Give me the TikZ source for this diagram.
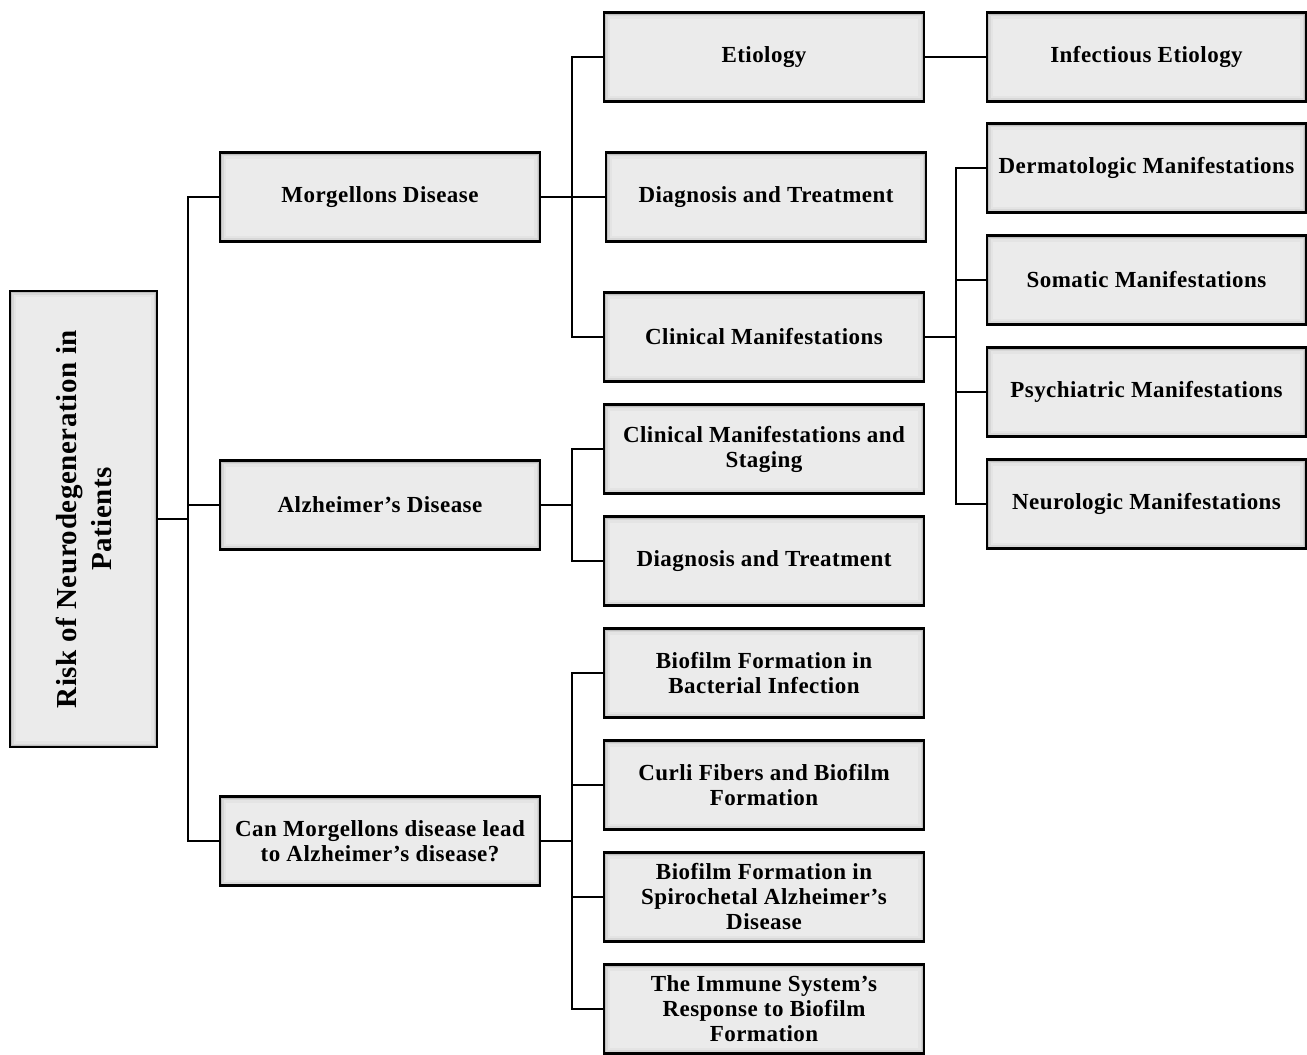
\documentclass[tikz,border=0pt]{standalone}
\usepackage{fontspec}
\setmainfont{Liberation Serif}
\newfontfamily\boxfont[LetterSpace=2]{Liberation Serif}
\definecolor{boxfill}{RGB}{235,235,235}
\definecolor{shA}{RGB}{228,228,228}
\definecolor{shB}{RGB}{215,215,215}
\definecolor{shC}{RGB}{190,190,190}
\begin{document}
\begin{tikzpicture}[x=1pt,y=-1pt,
  bx/.style={draw=black, line width=2.8pt, fill=boxfill,
    minimum width=320pt, minimum height=89pt, inner sep=2pt, align=center,
    font=\boxfont\bfseries\fontsize{23}{25}\selectfont,
    path picture={
      \draw[line width=12pt, shA] (path picture bounding box.south west) rectangle (path picture bounding box.north east);
      \draw[line width=7pt, shB] (path picture bounding box.south west) rectangle (path picture bounding box.north east);
      \draw[line width=4pt, shC] (path picture bounding box.south west) rectangle (path picture bounding box.north east);
    }},
  conn/.style={draw=black, line width=2.5pt}]
\useasboundingbox (0,0) rectangle (1307,1055);

% junctions
\coordinate (J1) at (188,519);
\coordinate (J2) at (572,197);
\coordinate (J3) at (572,505);
\coordinate (J4) at (572,841);
\coordinate (J5) at (956,337);

% root
\node[bx, minimum width=147pt, minimum height=456pt] (root) at (83.5,519) {};
\node[rotate=90, align=center, font=\boxfont\bfseries\fontsize{29}{35}\selectfont] (rootlbl) at (root.center) {Risk of Neurodegeneration in\\Patients};

% level 1
\node[bx] (m) at (380,197) {Morgellons Disease};
\node[bx] (a) at (380,505) {Alzheimer’s Disease};
\node[bx] (c) at (380,841) {Can Morgellons disease lead\\to Alzheimer’s disease?};

% level 2
\node[bx] (e) at (764,57) {Etiology};
\node[bx] (d1) at (766,197) {Diagnosis and Treatment};
\node[bx] (cm) at (764,337) {Clinical Manifestations};
\node[bx] (cms) at (764,449) {Clinical Manifestations and\\Staging};
\node[bx] (d2) at (764,561) {Diagnosis and Treatment};
\node[bx] (b1) at (764,673) {Biofilm Formation in\\Bacterial Infection};
\node[bx] (cf) at (764,785) {Curli Fibers and Biofilm\\Formation};
\node[bx] (b2) at (764,897) {Biofilm Formation in\\Spirochetal Alzheimer’s\\Disease};
\node[bx] (im) at (764,1009) {The Immune System’s\\Response to Biofilm\\Formation};

% level 3
\node[bx, minimum width=319pt] (inf) at (1146.5,57) {Infectious Etiology};
\node[bx, minimum width=319pt] (der) at (1146.5,168) {Dermatologic Manifestations};
\node[bx, minimum width=319pt] (som) at (1146.5,280) {Somatic Manifestations};
\node[bx, minimum width=319pt] (psy) at (1146.5,392) {Psychiatric Manifestations};
\node[bx, minimum width=319pt] (neu) at (1146.5,504) {Neurologic Manifestations};

\path[conn] (root.east) -- (J1);
\path[conn] (m.west) -| (J1);
\path[conn] (c.west) -| (J1);
\path[conn] (a.west) -- (a.west -| J1);

\path[conn] (m.east) -- (J2);
\path[conn] (e.west) -| (J2);
\path[conn] (d1.west) -- (J2);
\path[conn] (cm.west) -| (J2);

\path[conn] (a.east) -- (J3);
\path[conn] (cms.west) -| (J3);
\path[conn] (d2.west) -| (J3);

\path[conn] (c.east) -- (J4);
\path[conn] (b1.west) -| (J4);
\path[conn] (cf.west) -| (J4);
\path[conn] (b2.west) -| (J4);
\path[conn] (im.west) -| (J4);

\path[conn] (cm.east) -- (J5);
\path[conn] (der.west) -| (J5);
\path[conn] (som.west) -| (J5);
\path[conn] (psy.west) -| (J5);
\path[conn] (neu.west) -| (J5);

\path[conn] (e.east) -- (inf.west);
\end{tikzpicture}
\end{document}
